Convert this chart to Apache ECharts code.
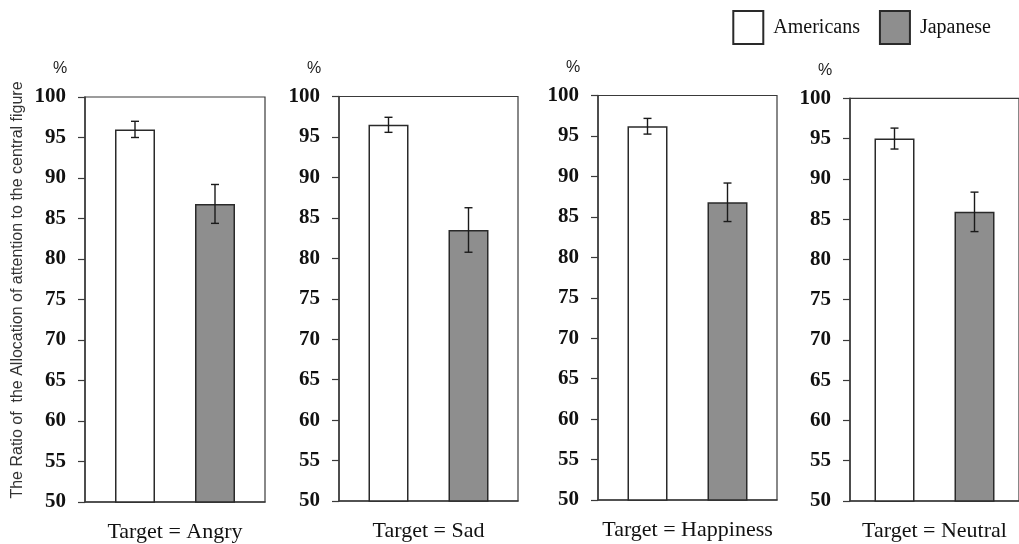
<!DOCTYPE html>
<html>
<head>
<meta charset="utf-8">
<script src="https://cdn.jsdelivr.net/npm/echarts@6/dist/echarts.min.js"></script>
<style>
html,body{margin:0;padding:0;background:#fff;}
#chart{width:1019px;height:544px;}
</style>
</head>
<body>
<div id="chart"></div>
<script>
var categories = ['Target = Angry', 'Target = Sad', 'Target = Happiness', 'Target = Neutral'];
var seriesNames = ['Americans', 'Japanese'];
var americans = [96.0, 96.5, 96.2, 95.0];
var americansErr = [1.0, 0.93, 0.97, 1.3];
var japanese = [86.8, 83.5, 86.8, 85.9];
var japaneseErr = [2.4, 2.75, 2.38, 2.45];
var yTicks = [50, 55, 60, 65, 70, 75, 80, 85, 90, 95, 100];
var yTitle = 'The Ratio of  the Allocation of attention to the central figure';

var grids = [
  {left: 85, top: 97, width: 180, height: 405},
  {left: 339, top: 96.5, width: 179, height: 404.5},
  {left: 598, top: 95.5, width: 179, height: 404.5},
  {left: 850, top: 98.3, width: 180, height: 402.7}
];
var BAR_W = 40;
var AXIS_C = '#3a3a3a';
var SERIF = '"Liberation Serif", "Times New Roman", serif';
var SANS = '"Liberation Sans", Arial, sans-serif';

var option = {
  backgroundColor: '#fff',
  animation: false,
  legend: {
    data: seriesNames,
    right: 23, top: 5,
    icon: 'rect',
    itemWidth: 30, itemHeight: 33, itemGap: 19,
    textStyle: {fontFamily: SERIF, fontSize: 20, color: '#111', padding: [0, 0, 0, 5]}
  },
  graphic: [{
    type: 'text', x: 18, y: 290, rotation: Math.PI / 2,
    style: {text: yTitle, fontFamily: SANS, fontSize: 16,
            fill: '#333', align: 'center', verticalAlign: 'middle'}
  }],
  grid: [], xAxis: [], yAxis: [], series: []
};

categories.forEach(function (cat, i) {
  var g = grids[i];
  option.grid.push({left: g.left, top: g.top, width: g.width, height: g.height,
    show: true, borderColor: AXIS_C, borderWidth: 1.2, backgroundColor: 'transparent'});
  option.xAxis.push({
    gridIndex: i, type: 'category', data: [cat],
    axisLine: {lineStyle: {color: AXIS_C, width: 1.5}},
    axisTick: {show: false},
    axisLabel: {fontFamily: SERIF, fontSize: 22, color: '#111', margin: 19}
  });
  option.yAxis.push({
    gridIndex: i, type: 'value', min: yTicks[0], max: yTicks[yTicks.length - 1], interval: 5,
    name: '%', nameLocation: 'end', nameGap: 20,
    nameTextStyle: {fontFamily: SANS, fontSize: 16, color: '#222', padding: [0, 50, 0, 0]},
    axisLine: {show: true, lineStyle: {color: AXIS_C, width: 1.5}},
    axisTick: {show: true, length: 7, lineStyle: {color: AXIS_C, width: 1.2}},
    splitLine: {show: false},
    axisLabel: {fontFamily: SERIF, fontSize: 21, fontWeight: 'bold', color: '#111', margin: 19}
  });
  option.series.push({
    name: 'Americans', type: 'bar', xAxisIndex: i, yAxisIndex: i,
    barWidth: BAR_W, barGap: '100%',
    itemStyle: {color: '#ffffff', borderColor: '#2a2a2a', borderWidth: 1.5},
    data: [americans[i]]
  });
  option.series.push({
    name: 'Japanese', type: 'bar', xAxisIndex: i, yAxisIndex: i,
    barWidth: BAR_W, barGap: '100%',
    itemStyle: {color: '#8e8e8e', borderColor: '#2a2a2a', borderWidth: 1.5},
    data: [japanese[i]]
  });
  option.series.push({
    type: 'custom', xAxisIndex: i, yAxisIndex: i, silent: true, z: 10,
    renderItem: function (params, api) {
      var side = api.value(3);
      var hi = api.coord([api.value(0), api.value(2)]);
      var lo = api.coord([api.value(0), api.value(1)]);
      var x = hi[0] + side * BAR_W;
      var cap = 4;
      var st = {stroke: '#1a1a1a', lineWidth: 1.4};
      return {type: 'group', children: [
        {type: 'line', shape: {x1: x, y1: hi[1], x2: x, y2: lo[1]}, style: st},
        {type: 'line', shape: {x1: x - cap, y1: hi[1], x2: x + cap, y2: hi[1]}, style: st},
        {type: 'line', shape: {x1: x - cap, y1: lo[1], x2: x + cap, y2: lo[1]}, style: st}
      ]};
    },
    data: [
      [0, americans[i] - americansErr[i], americans[i] + americansErr[i], -1],
      [0, japanese[i] - japaneseErr[i], japanese[i] + japaneseErr[i], 1]
    ]
  });
});

var chart = echarts.init(document.getElementById('chart'), null, {renderer: 'canvas'});
chart.setOption(option);
</script>
</body>
</html>
